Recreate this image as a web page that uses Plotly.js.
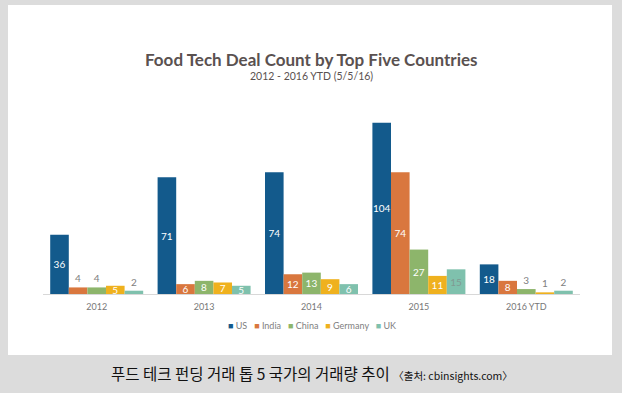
<!DOCTYPE html>
<html>
<head>
<meta charset="utf-8">
<script src="https://cdn.plot.ly/plotly-3.0.1.min.js"></script>
<style>html,body{margin:0;padding:0;background:#dcdcdc;}#chart{width:622px;height:393px;}</style>
</head>
<body>
<div id="chart"></div>
<script>
const categories = ["2012", "2013", "2014", "2015", "2016 YTD"];
const seriesNames = ["US", "India", "China", "Germany", "UK"];
const usValues = [36, 71, 74, 104, 18];
const indiaValues = [4, 6, 12, 74, 8];
const chinaValues = [4, 8, 13, 27, 3];
const germanyValues = [5, 7, 9, 11, 1];
const ukValues = [2, 5, 6, 15, 2];
const seriesColors = ["#135a8c", "#d9773e", "#8db56b", "#efb11e", "#7fc1ad"];
// label placement per series (i = inside, o = outside)
const labelPlacement = [
  ["i","i","i","i","i"],
  ["o","i","i","i","i"],
  ["o","i","i","i","o"],
  ["i","i","i","i","o"],
  ["o","i","i","i","o"]
];
const allValues = [usValues, indiaValues, chinaValues, germanyValues, ukValues];

const traces = allValues.map((vals, s) => ({
  type: "bar",
  name: seriesNames[s],
  x: categories,
  y: vals,
  marker: {color: seriesColors[s]},
  text: vals.map(String),
  textposition: labelPlacement[s].map(p => p === "i" ? "inside" : "outside"),
  insidetextanchor: "middle",
  textangle: 0,
  constraintext: "none",
  textfont: {
    family: "Lato, 'Open Sans', sans-serif",
    size: 10,
    color: labelPlacement[s].map((p, i) => p === "o" ? "#808080" : (s === 4 && i === 3 ? "#7f9a92" : "#ffffff"))
  },
  cliponaxis: false,
  hoverinfo: "skip",
  showlegend: false
}));

const L = 43, R = 42, T = 113, B = 99;
const W = 622, H = 393;
const pw = W - L - R, ph = H - T - B;
const px2x = p => (p - L) / pw;
const py2y = p => (H - B - p) / ph;

const legendText = seriesNames.map((n, i) =>
  `<span style="color:${seriesColors[i]}">■</span> ${n}`).join("   ");

const layout = {
  width: W, height: H,
  margin: {l: L, r: R, t: T, b: B, pad: 0},
  paper_bgcolor: "#dcdcdc",
  plot_bgcolor: "rgba(0,0,0,0)",
  barmode: "group",
  bargap: 0.134,
  bargroupgap: 0,
  font: {family: "Lato, 'Open Sans', sans-serif", color: "#777"},
  showlegend: false,
  xaxis: {
    type: "category",
    showline: true, linecolor: "#d8d8d8", linewidth: 1,
    ticks: "", showgrid: false, zeroline: false,
    ticklabelstandoff: 4,
    tickfont: {size: 9, color: "#777"}
  },
  yaxis: {
    range: [0, 110], visible: false, showgrid: false, zeroline: false
  },
  shapes: [{
    type: "rect", xref: "paper", yref: "paper", layer: "below",
    x0: px2x(8), x1: px2x(612), y0: py2y(355), y1: py2y(5),
    fillcolor: "#ffffff", line: {width: 0}
  }],
  annotations: [
    {text: "<b>Food Tech Deal Count by Top Five Countries</b>", xref: "paper", yref: "paper",
     x: 0.5, y: py2y(59), xanchor: "center", yanchor: "middle", showarrow: false,
     font: {size: 17, color: "#5a5150", family: "Lato, 'Open Sans', sans-serif"}},
    {text: "2012 - 2016 YTD (5/5/16)", xref: "paper", yref: "paper",
     x: 0.5, y: py2y(76), xanchor: "center", yanchor: "middle", showarrow: false,
     font: {size: 10.5, color: "#5a5150", family: "Lato, 'Open Sans', sans-serif"}},
    {text: legendText, xref: "paper", yref: "paper",
     x: 0.5, y: py2y(325), xanchor: "center", yanchor: "middle", showarrow: false,
     font: {size: 9, color: "#808080", family: "Lato, 'Open Sans', sans-serif"}},
    {text: "푸드 테크 펀딩 거래 톱 5 국가의 거래량 추이 <span style=\"font-size:10.5px\">〈출처: cbinsights.com〉</span>",
     xref: "paper", yref: "paper",
     x: 0.5, y: py2y(373), xanchor: "center", yanchor: "middle", showarrow: false,
     font: {size: 15.5, color: "#111111", family: "'Noto Sans CJK KR', sans-serif"}}
  ]
};

Plotly.newPlot("chart", traces, layout, {displayModeBar: false, staticPlot: true});
</script>
</body>
</html>
